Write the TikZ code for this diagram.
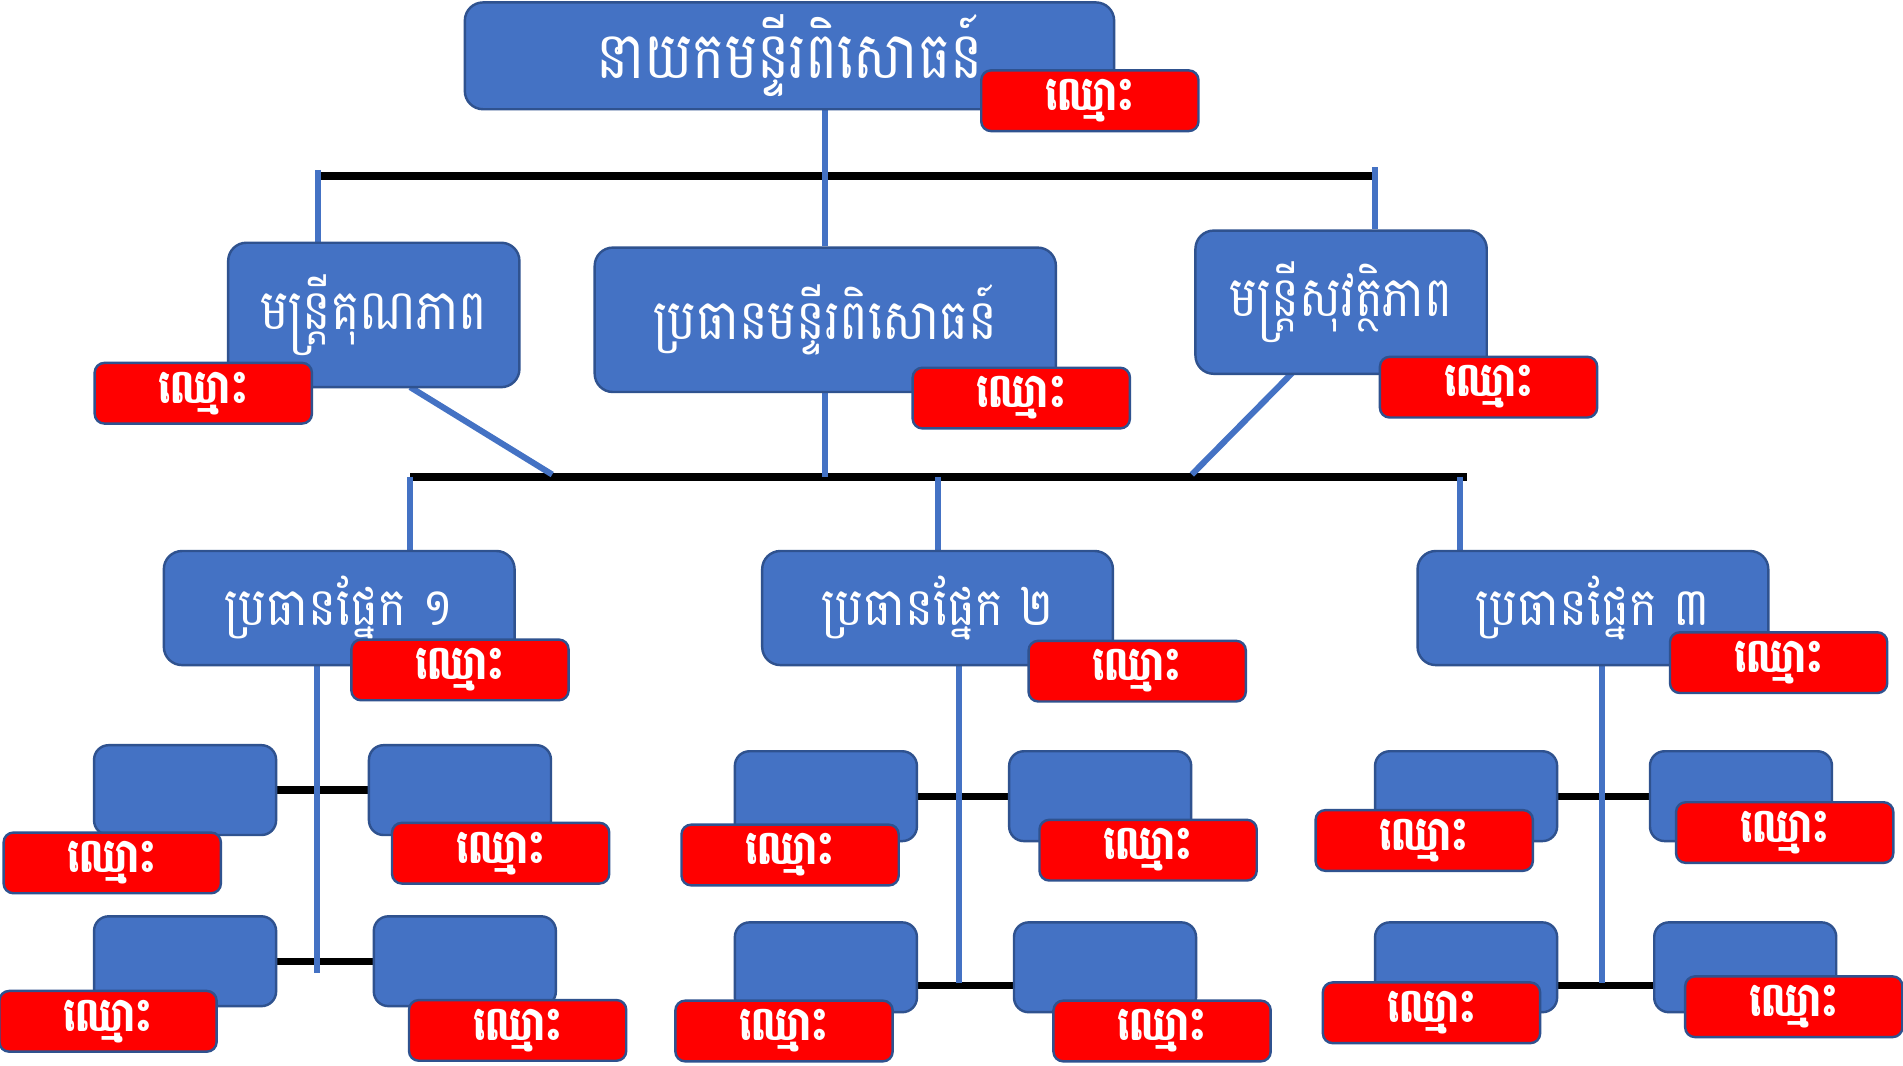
\documentclass[tikz,border=0pt]{standalone}
\usepackage{fontspec}
\newfontfamily\khmer[Script=Khmer]{Battambang}
\usetikzlibrary{backgrounds}
\definecolor{boxblue}{HTML}{4472C4}
\definecolor{bordblue}{HTML}{2F528F}
\definecolor{namered}{HTML}{FF0000}
\newcommand\khtxt[3]{\raisebox{#3}{\scalebox{#1}[1.28]{#2}}}
\newcommand\nametag{\raisebox{4pt}{\scalebox{1.04}[1.3]{ឈ្មោះ}}}
\begin{document}
\begin{tikzpicture}[x=1pt,y=-1pt,
  bluebox/.style={draw=bordblue, fill=boxblue, line width=2pt, rounded corners=15pt, text=white, inner sep=0pt, font=\khmer\fontsize{36}{40}\selectfont},
  bigbox/.style={bluebox, minimum width=240pt, minimum height=119pt},
  secbox/.style={bluebox, minimum width=289pt, minimum height=94pt, font=\khmer\fontsize{34}{38}\selectfont},
  smallbox/.style={bluebox, minimum width=150pt, minimum height=74pt, rounded corners=12pt},
  redbox/.style={draw=bordblue, fill=namered, line width=2pt, rounded corners=8pt, minimum width=179pt, minimum height=50pt, text=white, inner sep=0pt, font=\khmer\bfseries\fontsize{30}{34}\selectfont},
  blueline/.style={draw=boxblue, line width=5pt},
  blackline/.style={draw=black, line width=6pt}]
\useasboundingbox (0,0) rectangle (1568,878);
% top
\node[bluebox, minimum width=535pt, minimum height=88pt, font=\khmer\fontsize{42}{46}\selectfont] (top) at (650.5,46) {\khtxt{1.06}{នាយកមន្ទីរពិសោធន៍}{5pt}};
% second level
\node[bigbox] (ql) at (308,259.5) {\khtxt{1.09}{មន្ត្រីគុណភាព}{4pt}};
\node[bigbox, minimum width=380pt] (ctr) at (680,263.5) {\khtxt{1.1}{ប្រធានមន្ទីរពិសោធន៍}{4pt}};
\node[bigbox, minimum height=118pt] (sf) at (1105,249) {\khtxt{1.07}{មន្ត្រីសុវត្ថិភាព}{4pt}};
% sections
\node[secbox] (s1) at (279.5,501) {\khtxt{1.14}{ប្រធានផ្នែក ១}{5pt}};
\node[secbox] (s2) at (772.5,501) {\khtxt{1.14}{ប្រធានផ្នែក ២}{5pt}};
\node[secbox] (s3) at (1312.5,501) {\khtxt{1.14}{ប្រធានផ្នែក ៣}{5pt}};
% small boxes
\node[smallbox] (a1) at (152.5,651) {};
\node[smallbox] (a2) at (379,651) {};
\node[smallbox] (a3) at (152.5,792) {};
\node[smallbox] (a4) at (383,792) {};
\node[smallbox] (b1) at (680.5,656) {};
\node[smallbox] (b2) at (906.5,656) {};
\node[smallbox] (b3) at (680.5,797) {};
\node[smallbox] (b4) at (910.5,797) {};
\node[smallbox] (c1) at (1208,656) {};
\node[smallbox] (c2) at (1434.5,656) {};
\node[smallbox] (c3) at (1208,797) {};
\node[smallbox] (c4) at (1438,797) {};
% name tags
\node[redbox] (ntop) at (898,83) {\nametag};
\node[redbox] (nql) at (167.5,324) {\nametag};
\node[redbox] (nctr) at (841.5,328) {\nametag};
\node[redbox] (nsf) at (1226.5,319) {\nametag};
\node[redbox] (ns1) at (379,552) {\nametag};
\node[redbox] (ns2) at (937,553) {\nametag};
\node[redbox] (ns3) at (1465.5,546) {\nametag};
\node[redbox] (na1) at (92.5,711) {\nametag};
\node[redbox] (na2) at (412.5,703) {\nametag};
\node[redbox] (na3) at (89,841.5) {\nametag};
\node[redbox] (na4) at (426.5,849) {\nametag};
\node[redbox] (nb1) at (651,704.5) {\nametag};
\node[redbox] (nb2) at (946,700.5) {\nametag};
\node[redbox] (nb3) at (646,849.5) {\nametag};
\node[redbox] (nb4) at (957.5,849.5) {\nametag};
\node[redbox] (nc1) at (1173.5,692.5) {\nametag};
\node[redbox] (nc2) at (1470.5,686) {\nametag};
\node[redbox] (nc3) at (1179.5,834.5) {\nametag};
\node[redbox] (nc4) at (1478,829.5) {\nametag};
% connectors
\begin{scope}[on background layer]
  \fill[white] (0,0) rectangle (1568,878);
  \coordinate (ub1) at (262,145);
  \coordinate (ub2) at (1133,145);
  \coordinate (lb1) at (338,393);
  \coordinate (lb2) at (1209,393);
  \coordinate (lbm) at (773,393);
  \coordinate (lbr) at (1203,393);
  \coordinate (dl1) at (338,319);
  \coordinate (dl2) at (455,391);
  \coordinate (dr1) at (1065,307);
  \coordinate (dr2) at (982,391);
  \coordinate (v1) at (261,802);
  \coordinate (v2) at (790,810);
  \coordinate (v3) at (1320,810);
  \draw[blackline] (ub1) -- (ub2);
  \draw[blackline] (lb1) -- (lb2);
  \draw[blueline] (ctr.north |- top.south) -- (ctr.north);
  \draw[blueline] (ctr.south) -- (ctr.south |- lb1);
  \draw[blueline] ([yshift=5pt]ub1) -- (ub1 |- ql.north);
  \draw[blueline] ([yshift=7pt]ub2) -- (ub2 |- sf.north);
  \draw[blueline] (dl1) -- (dl2);
  \draw[blueline] (dr1) -- (dr2);
  \draw[blueline] (lb1) -- (lb1 |- s1.north);
  \draw[blueline] (lbm) -- (lbm |- s2.north);
  \draw[blueline] (lbr) -- (lbr |- s3.north);
  \draw[blackline] (a1.east) -- (a2.west);
  \draw[blackline] (a3.east) -- (a4.west);
  \draw[blackline] (b1.east) -- (b2.west);
  \draw[blackline] ([yshift=-15pt]b3.east) -- ([yshift=-15pt]b4.west);
  \draw[blackline] (c1.east) -- (c2.west);
  \draw[blackline] ([yshift=-15pt]c3.east) -- ([yshift=-15pt]c4.west);
  \draw[blueline] (v1 |- s1.south) -- (v1);
  \draw[blueline] (v2 |- s2.south) -- (v2);
  \draw[blueline] (v3 |- s3.south) -- (v3);
\end{scope}
\end{tikzpicture}
\end{document}
